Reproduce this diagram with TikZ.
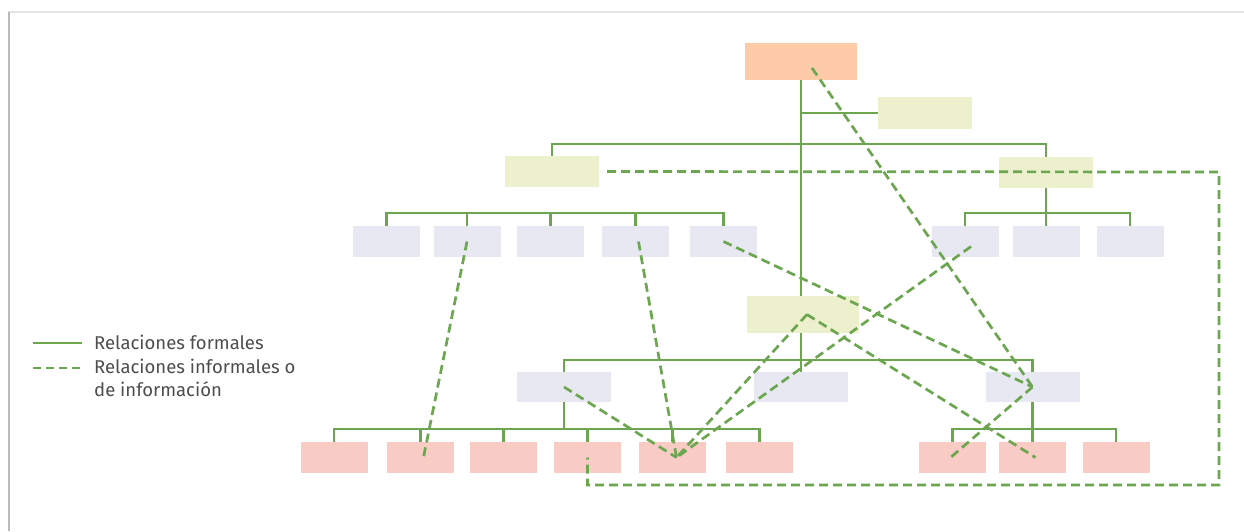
\documentclass[tikz,border=0pt]{standalone}
\usepackage{fontspec}
\setmainfont{Fira Sans}
\definecolor{lg}{HTML}{6CA650}
\definecolor{peach}{HTML}{FDCBA8}
\definecolor{pale}{HTML}{EDF0CD}
\definecolor{lav}{HTML}{E8E8F3}
\definecolor{pinkbox}{HTML}{F8CBC4}
\definecolor{txt}{HTML}{4D4D4D}
\begin{document}
\begin{tikzpicture}[x=1pt,y=-1pt]
\tikzset{
 boxbase/.style={draw=none,inner sep=0pt,outer sep=0pt},
 smallbox/.style={boxbase,minimum width=67pt,minimum height=31pt},
 midbox/.style={boxbase,minimum width=94pt,minimum height=31pt},
 bigbox/.style={boxbase,minimum width=112pt,minimum height=37pt},
 formal/.style={draw=lg,line width=2.4pt},
 informal/.style={draw=lg,line width=2.7pt,dash pattern=on 9pt off 5pt},
 legtext/.style={anchor=base west,inner sep=0pt,text=txt,font=\fontsize{18.5}{22}\selectfont}
}
\useasboundingbox (0,0) rectangle (1244,531);
\draw[gray!20,line width=1.5pt] (8,12) -- (1244,12);
\draw[gray!55,line width=2.5pt] (9,12) -- (9,531);

% boxes
\node[bigbox,fill=peach] (top) at (801,61) {};
\node[midbox,fill=lav,minimum height=30pt] (Lm) at (801,387) {};
\draw[formal] (top.south) -- (Lm.north);
\node[midbox,fill=pale,minimum height=32pt] (AS) at (924.5,113) {};
\node[midbox,fill=pale] (LY) at (552,171.5) {};
\node[midbox,fill=pale] (RY) at (1046,172) {};
\foreach \n/\x in {a1/386.5,a2/467,a3/550.5,a4/635.5,a5/723.5,r1/965,r2/1046,r3/1130}
  \node[smallbox,fill=lav] (\n) at (\x,241.5) {};
\node[bigbox,fill=pale] (MY) at (803,314.5) {};
\node[midbox,fill=lav,minimum height=30pt] (Ll) at (564,387) {};
\node[midbox,fill=lav,minimum height=30pt] (Lr) at (1032.5,387) {};
\foreach \n/\x in {b1/334,b2/420.5,b3/503.5,b4/587.5,b5/672.5,b6/759.5,c1/952.5,c2/1032.5,c3/1116}
  \node[smallbox,fill=pinkbox] (\n) at (\x,457.5) {};

% formal relations
\draw[formal] (top.south |- AS.west) -- (AS.west);
\draw[formal] (LY.north) -- ++(0,-12) -| (RY.north);
\draw[formal] (a1.north) -- ++(0,-13) -| (a5.north);
\foreach \n in {a2,a3,a4} \draw[formal] (\n.north) -- ++(0,-13);
\draw[formal] (r1.north) -- ++(0,-13) -| (r3.north);
\draw[formal] (RY.south) -- (r2.north);
\draw[formal] (Ll.north) -- ++(0,-12) -| (Lr.north);
\draw[formal] (b1.north) -- ++(0,-13) -| (b6.north);
\foreach \n in {b2,b3,b4,b5} \draw[formal] (\n.north) -- ++(0,-13);
\draw[formal] (Ll.south) -- ++(0,27);
\draw[formal] (c1.north) -- ++(0,-13) -| (c3.north);
\draw[formal] (Lr.south) -- (c2.north);

% informal relations
\coordinate (tp) at ([xshift=11pt,yshift=-7pt]top.center);
\coordinate (m5) at ([xshift=4pt]b5.center);
\coordinate (k1) at (1219,172);
\coordinate (k2) at (1219,485);
\draw[informal] (tp) -- (Lr.center);
\draw[informal] (a5.center) -- (Lr.center);
\draw[informal] (Lr.center) -- ([xshift=-2pt]c1.center);
\draw[informal] ([xshift=4pt]MY.center) -- ([xshift=3pt]c2.center);
\draw[informal] ([xshift=4pt]MY.center) -- (m5);
\draw[informal] ([xshift=6pt,yshift=-5pt]r1.center) -- (m5);
\draw[informal] (Ll.center) -- (m5);
\draw[informal] ([xshift=3pt]a4.center) -- (m5);
\draw[informal] (a2.center) -- ([xshift=3pt]b2.center);
\draw[informal] ([xshift=8pt]LY.east) -- (k1) -- (k2) -- (k2 -| b4.center) -- (b4.center);

% legend
\draw[formal,line width=2pt] (33,343) -- (82,343);
\draw[draw=lg,line width=2pt,dash pattern=on 8pt off 5pt] (33,368) -- (82,368);
\node[legtext] (l1) at (94,349) {Relaciones formales};
\node[legtext] (l2) at (94,373) {Relaciones informales o};
\node[legtext] (l3) at (94,396) {de información};
\end{tikzpicture}
\end{document}
